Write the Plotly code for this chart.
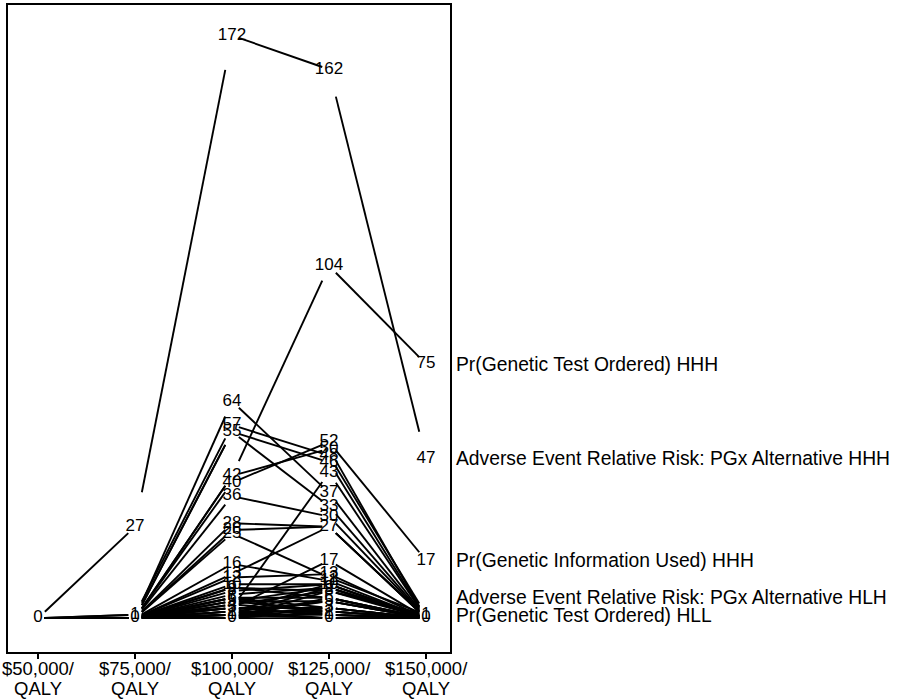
import plotly.graph_objects as go

# Willingness-to-pay thresholds (x categories), two-line tick labels
tick_top = ["$50,000/", "$75,000/", "$100,000/", "$125,000/", "$150,000/"]
tick_bottom = ["QALY", "QALY", "QALY", "QALY", "QALY"]

# Values per series at each threshold
s_ae_hhh = [0, 27, 172, 162, 47]
s_gto_hhh = [0, 0, 42, 104, 75]
s_giu_hhh = [0, 0, 40, 52, 17]
s_ae_hlh = [0, 1, 57, 48, 1]
s_gto_hll = [0, 0, 55, 46, 0]
others = [
    [0, 0, 55, 33, 0],
    [0, 0, 64, 37, 0],
    [0, 0, 42, 50, 0],
    [0, 0, 3, 43, 0],
    [0, 0, 36, 30, 0],
    [0, 0, 28, 27, 0],
    [0, 0, 26, 27, 0],
    [0, 0, 25, 12, 1],
    [0, 0, 16, 11, 0],
    [0, 0, 13, 27, 0],
    [0, 0, 10, 10, 0],
    [0, 0, 12, 13, 0],
    [0, 0, 3, 17, 0],
    [0, 0, 9, 8, 1],
    [0, 0, 6, 6, 0],
    [0, 0, 5, 5, 0],
    [0, 0, 2, 10, 0],
    [0, 0, 1, 9, 0],
    [0, 0, 0, 8, 0],
    [0, 0, 0, 6, 0],
    [0, 0, 1, 5, 0],
    [0, 0, 3, 3, 0],
    [0, 0, 2, 2, 0],
    [0, 0, 1, 1, 0],
    [0, 0, 0, 0, 0],
    [0, 0, 0, 3, 0],
    [0, 0, 5, 2, 0],
    [0, 0, 2, 0, 0],
    [0, 0, 6, 1, 0],
    [0, 0, 8, 10, 0],
    [0, 0, 7, 9, 0],
    [0, 0, 4, 8, 1],
    [0, 0, 9, 6, 0],
    [0, 0, 6, 3, 0],
    [0, 0, 4, 2, 0],
    [0, 1, 3, 1, 0],
    [0, 0, 1, 0, 0],
    [0, 0, 5, 9, 0],
    [0, 0, 2, 5, 0],
    [0, 0, 0, 2, 0],
    [0, 0, 1, 3, 0],
]

# Series named at the right edge (name, series, vertical nudge in px)
labelled_series = [
    ("Pr(Genetic Test Ordered) HHH", s_gto_hhh, 0),
    ("Adverse Event Relative Risk: PGx Alternative HHH", s_ae_hhh, 0),
    ("Pr(Genetic Information Used) HHH", s_giu_hhh, 0),
    ("Adverse Event Relative Risk: PGx Alternative HLH", s_ae_hlh, 17),
    ("Pr(Genetic Test Ordered) HLL", s_gto_hll, 3),
]

all_series = [s_ae_hhh, s_gto_hhh, s_giu_hhh, s_ae_hlh, s_gto_hll] + others

FONT = "Liberation Sans, Arial, sans-serif"
GAP = 0.07  # visual gap of the connecting segments near each label

fig = go.Figure()
for s in all_series:
    xs, ys = [], []
    for i in range(len(s) - 1):
        a, b = s[i], s[i + 1]
        xs += [i + GAP, i + 1 - GAP, None]
        ys += [a + GAP * (b - a), b - GAP * (b - a), None]
    fig.add_trace(go.Scatter(x=xs, y=ys, mode="lines",
                             line=dict(color="black", width=1.9),
                             hoverinfo="skip", showlegend=False))

# value labels at every point (identical overlapping labels drawn once)
seen = set()
lx, ly, lt = [], [], []
for s in all_series:
    for i, v in enumerate(s):
        if (i, v) not in seen:
            seen.add((i, v))
            lx.append(i)
            ly.append(v)
            lt.append(str(v))
fig.add_trace(go.Scatter(x=lx, y=ly, mode="text", text=lt,
                         textposition="middle center",
                         textfont=dict(family=FONT, size=17, color="black"),
                         hoverinfo="skip", showlegend=False))

for name, s, shift in labelled_series:
    fig.add_annotation(x=1, xref="paper", y=s[-1], yref="y", text=name,
                       showarrow=False, xanchor="left", yanchor="middle",
                       xshift=4, yshift=shift,
                       font=dict(family=FONT, size=19.3, color="black"))

for i, (t1, t2) in enumerate(zip(tick_top, tick_bottom)):
    fig.add_annotation(x=i, xref="x", y=0, yref="paper", text=t1,
                       showarrow=False, xanchor="center", yanchor="middle",
                       yshift=-16, font=dict(family=FONT, size=18.5, color="black"))
    fig.add_annotation(x=i, xref="x", y=0, yref="paper", text=t2,
                       showarrow=False, xanchor="center", yanchor="middle",
                       yshift=-36, font=dict(family=FONT, size=18.5, color="black"))

fig.update_layout(
    width=903, height=699,
    margin=dict(l=8, r=453, t=5, b=47, autoexpand=False),
    plot_bgcolor="white", paper_bgcolor="white",
    xaxis=dict(range=[-0.31, 4.247], tickvals=list(range(5)),
               showticklabels=False, automargin=False,
               showgrid=False, zeroline=False, showline=True, linecolor="black",
               linewidth=2, mirror=True, ticks="outside", ticklen=5,
               tickcolor="black", tickwidth=2),
    yaxis=dict(range=[-10, 181], showgrid=False, zeroline=False, showline=True,
               linecolor="black", linewidth=2, mirror=True, showticklabels=False,
               ticks="", automargin=False),
)

fig.write_html("out.html", config={"displayModeBar": False},
               post_script="document.body.style.margin='0';")
